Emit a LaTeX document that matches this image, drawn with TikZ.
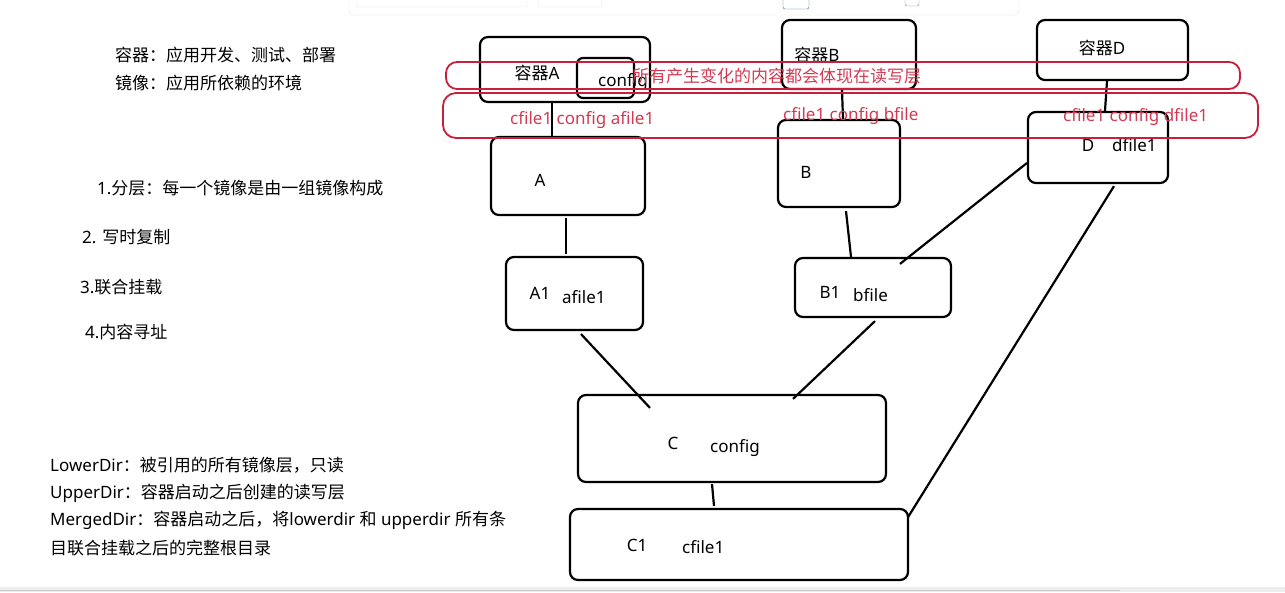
\documentclass[tikz,border=0pt]{standalone}
\usepackage{fontspec}
\setmainfont{Noto Sans}
\newfontfamily\cjk{Noto Sans CJK SC}
\usetikzlibrary{positioning,calc}
\definecolor{redline}{HTML}{C8203C}
\definecolor{redtext}{HTML}{D23A52}
\definecolor{panel}{HTML}{E4E4E4}
\definecolor{strip}{HTML}{EEEEEE}
\definecolor{focus}{HTML}{3B5A9A}
\newcommand{\txt}{\fontsize{17pt}{20pt}\selectfont}
\newcommand{\zh}[1]{{\cjk #1}}

\begin{document}
\begin{tikzpicture}[
  x=1pt,y=-1pt,
  box/.style={draw,line width=2.2pt,rounded corners=8pt,inner sep=0pt},
  layer/.style={draw=redline,line width=1.8pt,rounded corners=11pt,inner sep=0pt},
  conn/.style={line width=2.2pt},
  lbl/.style={font=\txt,inner sep=0pt},
  note/.style={lbl,anchor=west},
  redtxt/.style={lbl,anchor=west,text=redtext}
]
  \useasboundingbox (0,0) rectangle (1285,592);

  % toolbar panel and bottom strip of the screenshot
  \node[draw=panel,fill=white,rounded corners=4pt,minimum width=670,minimum height=22,inner sep=0pt] (bar) at (684,4) {};
  \node[draw=panel,rounded corners=2pt,minimum width=170,minimum height=12,inner sep=0pt] (fld1) at (442,1) {};
  \node[draw=panel,rounded corners=2pt,minimum width=63,minimum height=12,inner sep=0pt] (fld2) at (570,1) {};
  \node[draw=focus,rounded corners=2pt,minimum width=26,minimum height=14,inner sep=0pt] (btn) at (796,2) {};
  \node[draw=gray,rounded corners=2pt,minimum width=14,minimum height=10,inner sep=0pt] (chk) at (912,1) {};
  \fill[strip] (0,587) rectangle (1285,592);
  \draw[gray!40,line width=0.8pt] (0,590.5) -- (1120,590.5);

  % left notes
  \node[note] (n1) at (115,55) {\zh{容器：应用开发、测试、部署}};
  \node[note] (n2) at (115,83) {\zh{镜像：应用所依赖的环境}};
  \node[note] (p1) at (97,188) {1.\zh{分层：每一个镜像是由一组镜像构成}};
  \node[note] (p2) at (82,237) {2. \zh{写时复制}};
  \node[note] (p3) at (80,287) {3.\zh{联合挂载}};
  \node[note] (p4) at (85,332) {4.\zh{内容寻址}};

  \node[note] (d1) at (50,465) {LowerDir\zh{：被引用的所有镜像层，只读}};
  \node[note] (d2) at (50,493) {UpperDir\zh{：容器启动之后创建的读写层}};
  \node[note] (d3) at (50,520) {MergedDir\zh{：容器启动之后，将}lowerdir \zh{和} upperdir \zh{所有条}};
  \node[note] (d4) at (50,548) {\zh{目联合挂载之后的完整根目录}};

  % containers
  \node[box,minimum width=170,minimum height=65] (ctrA) at (565,69.5) {};
  \node[box,rounded corners=6pt,minimum width=57,minimum height=40] (cfgA) at (605.5,78) {};
  \node[box,minimum width=134,minimum height=69] (ctrB) at (849,54.5) {};
  \node[box,minimum width=151,minimum height=60] (ctrD) at (1112.5,50) {};
  \node[lbl] (tA) at (537,73) {\zh{容器}A};
  \node[lbl,anchor=west] (tcfg) at (598,82) {config};
  \node[lbl] (tB) at (817,55) {\zh{容器}B};
  \node[lbl] (tD) at (1102,48) {\zh{容器}D};

  % image layers
  \node[box,minimum width=154,minimum height=78] (imgA) at (568,176) {};
  \node[box,minimum width=137,minimum height=73] (imgA1) at (574.5,293.5) {};
  \node[box,minimum width=122,minimum height=87] (imgB) at (839,163.5) {};
  \node[box,minimum width=156,minimum height=59] (imgB1) at (873,287.5) {};
  \node[box,minimum width=140,minimum height=71] (imgD) at (1098,147.5) {};
  \node[box,minimum width=308,minimum height=87] (imgC) at (732,438.5) {};
  \node[box,minimum width=338,minimum height=71] (imgC1) at (739,544.5) {};

  \node[lbl] (lA) at (540,180) {A};
  \node[lbl] (lA1) at (540,293) {A1};
  \node[lbl,anchor=west] (fA1) at (562,297) {afile1};
  \node[lbl] (lB) at (806,172) {B};
  \node[lbl] (lB1) at (830,292) {B1};
  \node[lbl,anchor=west] (fB1) at (853,295) {bfile};
  \node[lbl] (lD) at (1088,145) {D};
  \node[lbl,anchor=west] (fD) at (1112,145) {dfile1};
  \node[lbl] (lC) at (673,443) {C};
  \node[lbl,anchor=west] (fC) at (710,448) {config};
  \node[lbl] (lC1) at (637,545) {C1};
  \node[lbl,anchor=west] (fC1) at (682,547) {cfile1};

  % links
  \draw[conn] ([xshift=-13pt]ctrA.south) -- ([xshift=-16pt]imgA.north);
  \draw[conn] ([xshift=-7pt]ctrB.south) -- ([xshift=4pt]imgB.north);
  \draw[conn] ([xshift=-5.5pt]ctrD.south) -- ([xshift=7pt]imgD.north);
  \draw[conn] ([xshift=-2pt,yshift=-2pt]imgA.south) -- ([xshift=-8.5pt,yshift=2pt]imgA1.north);
  \draw[conn] ([xshift=7pt,yshift=-3pt]imgB.south) -- ([xshift=-22pt]imgB1.north);
  \draw[conn] ([yshift=-15.5pt]imgD.west) -- ([xshift=27pt,yshift=-7pt]imgB1.north);
  \draw[conn] ([xshift=16pt,yshift=-2pt]imgD.south) -- ([xshift=-1pt,yshift=27.5pt]imgC1.east);
  \draw[conn] ([xshift=6.5pt,yshift=-3pt]imgA1.south) -- ([xshift=-82pt,yshift=-14pt]imgC.north);
  \draw[conn] ([xshift=2pt,yshift=-3pt]imgB1.south) -- ([xshift=61pt,yshift=-5pt]imgC.north);
  \draw[conn] ([xshift=-20pt,yshift=-1pt]imgC.south) -- ([xshift=-25pt,yshift=2pt]imgC1.north);

  % read-write layer marks
  \node[layer,minimum width=794,minimum height=27] (rwTop) at (843,75.5) {};
  \node[layer,rounded corners=13pt,minimum width=815,minimum height=45] (rwLow) at (850.5,115.5) {};
  \node[redtxt] (rwNote) at (632,76) {\zh{所有产生变化的内容都会体现在读写层}};
  \node[redtxt] (rwA) at (510,120) {cfile1 config afile1};
  \node[redtxt] (rwB) at (783,116) {cfile1 config bfile};
  \node[redtxt] (rwD) at (1063,117) {cfile1 config dfile1};
\end{tikzpicture}
\end{document}
